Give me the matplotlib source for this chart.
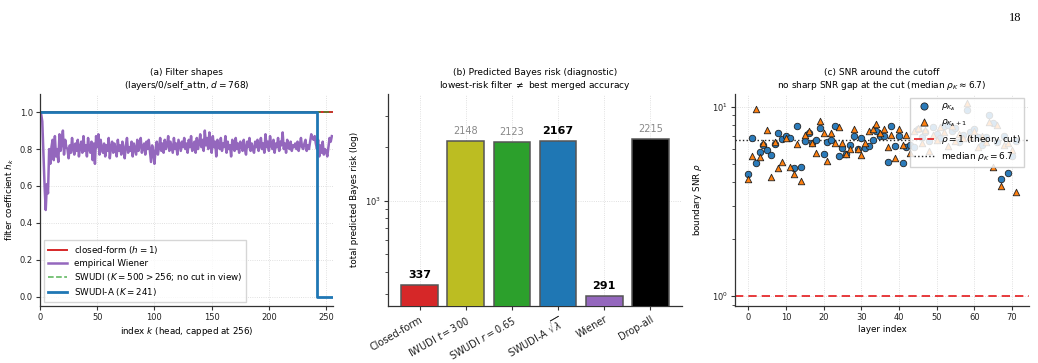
import matplotlib
matplotlib.use("Agg")
import numpy as np
from matplotlib import pyplot

# Data #
# (a) empirical Wiener filter coefficients, head of the spectrum (k = 0..255)
wiener_h = [
    1.00, 0.99, 0.95, 0.78, 0.60, 0.47, 0.61, 0.56, 0.80, 0.72, 0.81, 0.85, 0.74, 0.87, 0.76, 0.80,
    0.73, 0.88, 0.79, 0.84, 0.90, 0.77, 0.85, 0.81, 0.80, 0.75, 0.82, 0.78, 0.86, 0.80, 0.77, 0.83,
    0.79, 0.85, 0.76, 0.81, 0.84, 0.78, 0.87, 0.79, 0.82, 0.76, 0.86, 0.80, 0.78, 0.84, 0.74, 0.83,
    0.72, 0.87, 0.81, 0.88, 0.77, 0.85, 0.80, 0.78, 0.83, 0.76, 0.82, 0.79, 0.86, 0.75, 0.81, 0.84,
    0.78, 0.83, 0.80, 0.76, 0.85, 0.79, 0.82, 0.77, 0.84, 0.80, 0.75, 0.82, 0.86, 0.78, 0.81, 0.79,
    0.84, 0.76, 0.83, 0.80, 0.77, 0.85, 0.79, 0.82, 0.86, 0.78, 0.81, 0.83, 0.77, 0.84, 0.80, 0.85,
    0.79, 0.73, 0.82, 0.78, 0.72, 0.80, 0.84, 0.77, 0.81, 0.86, 0.79, 0.83, 0.78, 0.85, 0.80, 0.82,
    0.87, 0.79, 0.84, 0.81, 0.78, 0.86, 0.80, 0.83, 0.77, 0.85, 0.82, 0.79, 0.84, 0.81, 0.86, 0.80,
    0.83, 0.78, 0.85, 0.81, 0.87, 0.79, 0.82, 0.84, 0.78, 0.86, 0.80, 0.83, 0.88, 0.81, 0.85, 0.79,
    0.90, 0.82, 0.86, 0.80, 0.89, 0.83, 0.78, 0.87, 0.81, 0.84, 0.76, 0.85, 0.82, 0.80, 0.86, 0.79,
    0.83, 0.81, 0.87, 0.78, 0.84, 0.80, 0.82, 0.76, 0.85, 0.81, 0.79, 0.86, 0.80, 0.83, 0.78, 0.84,
    0.82, 0.79, 0.85, 0.80, 0.77, 0.84, 0.81, 0.86, 0.79, 0.83, 0.80, 0.78, 0.84, 0.81, 0.85, 0.79,
    0.82, 0.86, 0.80, 0.83, 0.78, 0.88, 0.81, 0.84, 0.79, 0.87, 0.82, 0.80, 0.85, 0.78, 0.83, 0.81,
    0.86, 0.79, 0.84, 0.82, 0.89, 0.80, 0.83, 0.78, 0.85, 0.81, 0.80, 0.84, 0.79, 0.82, 0.81, 0.83,
    0.80, 0.84, 0.79, 0.82, 0.86, 0.81, 0.80, 0.83, 0.85, 0.79, 0.82, 0.80, 0.84, 0.88, 0.86, 0.85,
    0.87, 0.83, 0.80, 0.85, 0.76, 0.82, 0.78, 0.84, 0.77, 0.80, 0.79, 0.76, 0.81, 0.86, 0.84, 0.87,
]
head_cap = 256
swudi_a_cut = 241

# (b) predicted Bayes risk per filter
methods = ["Closed-form", "IWUDI $t=300$", "SWUDI $r=0.65$",
           "SWUDI-A $\\sqrt{\\lambda}$", "Wiener", "Drop-all"]
risks = [337, 2148, 2123, 2167, 291, 2215]
bar_colors = ["#d62728", "#bcbd22", "#2ca02c", "#1f77b4", "#9467bd", "#000000"]
highlight = [True, False, False, True, True, False]

# (c) boundary SNR per layer
layers = list(range(72))
rho_k = [4.39, 6.80, 5.02, 5.78, 6.25, 5.93, 5.58, 6.35, 7.29, 6.78, 7.00, 6.86,
         4.76, 7.91, 4.78, 6.56, 7.23, 6.43, 6.67, 7.71, 5.62, 6.53, 6.67, 7.91,
         5.49, 6.05, 5.60, 6.30, 7.00, 5.96, 6.86, 6.05, 6.20, 6.69, 7.47, 6.99,
         7.00, 5.10, 7.91, 6.20, 7.00, 5.02, 6.10, 6.25, 6.15, 7.60, 6.90, 7.30,
         6.60, 7.80, 7.20, 6.80, 7.90, 8.00, 7.40, 7.70, 6.50, 7.10, 9.60, 7.30,
         7.60, 6.90, 6.30, 6.90, 9.00, 8.20, 6.50, 4.17, 7.00, 4.45, 5.50, 6.60]
rho_k1 = [4.13, 5.47, 9.72, 5.42, 6.43, 7.56, 4.27, 6.53, 4.76, 5.12, 6.80, 4.82,
          4.43, 6.35, 4.03, 7.06, 7.44, 6.45, 5.71, 8.44, 7.29, 5.19, 7.23, 6.45,
          7.84, 6.40, 5.65, 6.00, 7.65, 5.96, 5.53, 6.43, 7.47, 7.65, 8.07, 7.28,
          7.61, 6.15, 7.06, 5.35, 7.61, 6.30, 7.09, 5.71, 7.47, 7.70, 6.40, 7.50,
          5.80, 7.10, 6.70, 7.80, 7.30, 6.20, 7.90, 6.60, 7.20, 6.80, 10.4, 6.90,
          7.40, 6.10, 7.00, 6.50, 8.30, 4.82, 8.00, 3.81, 6.27, 6.40, 5.90, 3.53]
median_rho = 6.7

# Style #
pyplot.rcParams['font.family'] = 'DejaVu Sans'
pyplot.rcParams['font.size'] = 6
pyplot.rcParams['axes.edgecolor'] = '#333333'
pyplot.rcParams['axes.linewidth'] = 0.9
pyplot.rcParams['xtick.color'] = '#333333'
pyplot.rcParams['ytick.color'] = '#333333'
pyplot.rcParams['xtick.labelcolor'] = '#222222'
pyplot.rcParams['ytick.labelcolor'] = '#222222'
pyplot.rcParams['axes.titlesize'] = 6.5
pyplot.rcParams['axes.labelsize'] = 6.3

fig = pyplot.figure(figsize=(10.38, 3.63), dpi=100)
bottom, top = 0.157, 0.742
ax_a = fig.add_axes([40/1038, bottom, (333-40)/1038, top-bottom])
ax_b = fig.add_axes([388/1038, bottom, (682-388)/1038, top-bottom])
ax_c = fig.add_axes([735/1038, bottom, (1029-735)/1038, top-bottom])

for ax in (ax_a, ax_b, ax_c):
    ax.spines['top'].set_visible(False)
    ax.spines['right'].set_visible(False)
    ax.grid(True, linestyle=':', linewidth=0.6, color='#cccccc', alpha=0.8)
    ax.set_axisbelow(True)
    ax.tick_params(length=3, width=0.8, pad=2)

# (a) Filter shapes #
k = np.arange(head_cap)
ax_a.plot(k, np.ones(head_cap), color='#d62728', lw=1.4, label='closed-form ($h=1$)')
ax_a.plot(k, wiener_h, color='#9467bd', lw=1.8, label='empirical Wiener')
ax_a.plot(k, np.ones(head_cap), color='#2ca02c', lw=1.1, ls='--', alpha=0.8,
          label='SWUDI ($K=500>256$; no cut in view)')
swudi_a = (k <= swudi_a_cut).astype(float)
ax_a.step(k, swudi_a, where='post', color='#1f77b4', lw=2.0, label='SWUDI-A ($K=241$)')
ax_a.set_xlim(0, head_cap)
ax_a.set_ylim(-0.05, 1.1)
ax_a.set_yticks([0.0, 0.2, 0.4, 0.6, 0.8, 1.0])
ax_a.set_xlabel('index $k$ (head, capped at 256)', labelpad=2)
ax_a.set_ylabel('filter coefficient $h_k$', labelpad=3)
ax_a.set_title('(a) Filter shapes\n(layers/0/self_attn, $d=768$)', pad=4)
ax_a.legend(loc='lower left', fontsize=6.3, frameon=True, handlelength=2.2,
            borderpad=0.4, labelspacing=0.35, fancybox=False, edgecolor='#cccccc')

# (b) Predicted Bayes risk #
x = np.arange(len(methods))
ax_b.bar(x, risks, width=0.8, color=bar_colors, edgecolor='#555555', linewidth=1.1, zorder=3)
ax_b.set_yscale('log')
ax_b.set_ylim(min(risks) * 0.88, max(risks) * 1.8)
for xi, r, hl in zip(x, risks, highlight):
    if hl:
        ax_b.text(xi, r * 1.07, str(r), ha='center', va='bottom', fontsize=8,
                  fontweight='bold', color='black')
    else:
        ax_b.text(xi, r * 1.07, str(r), ha='center', va='bottom', fontsize=7,
                  color='#888888')
ax_b.set_xticks(x)
ax_b.set_xticklabels(methods, rotation=30, ha='right', rotation_mode='anchor', fontsize=7)
ax_b.tick_params(axis='x', pad=3)
ax_b.set_ylabel('total predicted Bayes risk (log)', labelpad=4)
ax_b.set_title('(b) Predicted Bayes risk (diagnostic)\nlowest-risk filter $\\neq$ best merged accuracy', pad=4)

# (c) SNR around the cutoff #
ax_c.scatter(layers, rho_k, marker='o', s=22, color='#2b7bba', edgecolor='#222222',
             linewidth=0.6, zorder=3, label='$\\rho_{K_A}$')
ax_c.scatter(layers, rho_k1, marker='^', s=22, color='#ff7f0e', edgecolor='#222222',
             linewidth=0.6, zorder=3, label='$\\rho_{K_A+1}$')
ax_c.axhline(1.0, color='#e41a1c', ls='--', lw=1.2, dashes=(5, 3), label='$\\rho=1$ (theory cut)')
ax_c.axhline(median_rho, color='#222222', ls=':', lw=1.0,
             label='median $\\rho_K=%.1f$' % median_rho)
ax_c.set_yscale('log')
ax_c.set_ylim(0.885, 11.7)
ax_c.set_xlim(-3.55, 74.55)
ax_c.set_xticks([0, 10, 20, 30, 40, 50, 60, 70])
ax_c.set_xlabel('layer index', labelpad=2)
ax_c.set_ylabel('boundary SNR $\\rho$', labelpad=6)
ax_c.set_title('(c) SNR around the cutoff\nno sharp SNR gap at the cut (median $\\rho_K\\approx 6.7$)', pad=4)
leg = ax_c.legend(loc='upper right', fontsize=6.5, frameon=True, handlelength=2.2,
                  borderpad=0.4, labelspacing=0.45, fancybox=False, edgecolor='#cccccc',
                  framealpha=0.85, markerscale=1.1)
leg.set_zorder(5)

# Page number #
fig.text(0.984, 0.966, '18', ha='right', va='top', fontsize=9, family='Liberation Serif')

fig.savefig('out.png', dpi=100)
pyplot.close(fig)
